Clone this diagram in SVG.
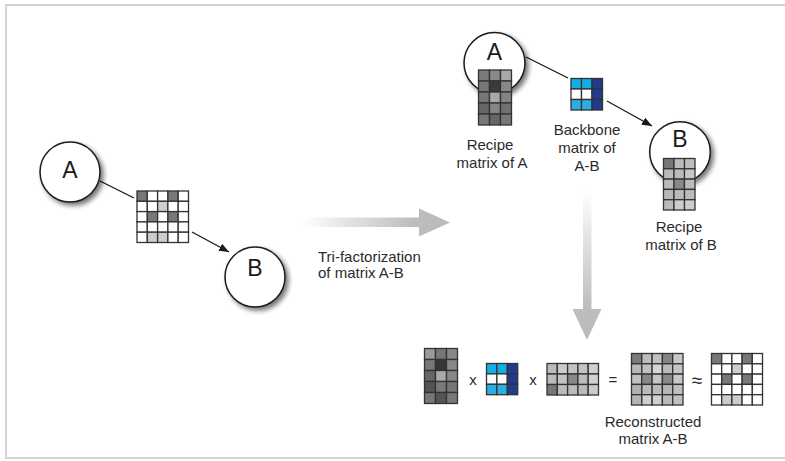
<svg xmlns="http://www.w3.org/2000/svg" width="785" height="461" viewBox="0 0 785 461">
  <style>
    text { font-family: "Liberation Sans", Arial, sans-serif; fill: #2b2b2b; }
    .lbl { font-size: 15px; text-anchor: middle; }
    .big { font-size: 23px; text-anchor: middle; fill: #1a1a1a; }
    .op { font-size: 15px; text-anchor: middle; }
    .node { fill: #fff; stroke: #1a1a1a; stroke-width: 1.5; }
    .edge { stroke: #1a1a1a; stroke-width: 1.3; fill: none; }
    .m rect { stroke: #333; stroke-width: 1.3; }
    .w { fill: #fff; }
    .d { fill: #787878; }
    .l { fill: #cdcdcd; }
    .c1 { fill: #12aee8; }
    .c2 { fill: #2aaee3; }
    .nv { fill: #233a91; }
  </style>
  <defs>
    <filter id="shadow" x="-30%" y="-30%" width="170%" height="170%">
      <feGaussianBlur in="SourceAlpha" stdDeviation="2.5"/>
      <feOffset dx="2.5" dy="3" result="b"/>
      <feComponentTransfer><feFuncA type="linear" slope="0.55"/></feComponentTransfer>
      <feMerge><feMergeNode/><feMergeNode in="SourceGraphic"/></feMerge>
    </filter>
    <marker id="arrow" viewBox="0 0 10 8" refX="10" refY="4" markerWidth="10" markerHeight="8" markerUnits="userSpaceOnUse" orient="auto">
      <path d="M0,0 L10,4 L0,8 Z" fill="#1a1a1a"/>
    </marker>
    <linearGradient id="fadeH" x1="302" y1="0" x2="450" y2="0" gradientUnits="userSpaceOnUse">
      <stop offset="0" stop-color="#ffffff"/>
      <stop offset="0.75" stop-color="#bdbdbd"/>
      <stop offset="1" stop-color="#bababa"/>
    </linearGradient>
    <linearGradient id="fadeV" x1="0" y1="190" x2="0" y2="340" gradientUnits="userSpaceOnUse">
      <stop offset="0" stop-color="#ffffff"/>
      <stop offset="0.78" stop-color="#bdbdbd"/>
      <stop offset="1" stop-color="#bababa"/>
    </linearGradient>
  </defs>

  <!-- outer frame -->
  <rect x="6" y="5" width="790" height="453" fill="#fff" stroke="#d4d4d4" stroke-width="2"/>

  <!-- connectors -->
  <g id="connectors">
    <line class="edge" x1="100" y1="181" x2="134" y2="198"/>
    <line class="edge" x1="192" y1="232" x2="229" y2="252" marker-end="url(#arrow)"/>
    <line class="edge" x1="526" y1="57" x2="568" y2="78"/>
    <line class="edge" x1="607" y1="101" x2="652" y2="126" marker-end="url(#arrow)"/>
    <!-- factorization arrows -->
    <path d="M302,217.5 H419 V208.5 L450,222.5 L419,236.5 V227 H302 Z" fill="url(#fadeH)"/>
    <path d="M583,190 H591.5 V309 H601.5 L587,340 L572.5,309 H583 Z" fill="url(#fadeV)"/>
  </g>

  <!-- input graph -->
  <g id="nodeA">
    <circle class="node" cx="70" cy="172" r="30" filter="url(#shadow)"/>
    <text class="big" x="70" y="178">A</text>
  </g>
  <g id="nodeB">
    <circle class="node" cx="255" cy="277" r="30" filter="url(#shadow)"/>
    <text class="big" x="255" y="276">B</text>
  </g>
  <g id="matrixAB" class="m" transform="translate(137,191)">
    <rect class="d" x="0" y="0" width="10.3" height="10.3"/><rect class="w" x="10.3" y="0" width="10.3" height="10.3"/><rect class="w" x="20.6" y="0" width="10.3" height="10.3"/><rect class="d" x="30.9" y="0" width="10.3" height="10.3"/><rect class="w" x="41.2" y="0" width="10.3" height="10.3"/>
    <rect class="w" x="0" y="10.3" width="10.3" height="10.3"/><rect class="w" x="10.3" y="10.3" width="10.3" height="10.3"/><rect class="l" x="20.6" y="10.3" width="10.3" height="10.3"/><rect class="w" x="30.9" y="10.3" width="10.3" height="10.3"/><rect class="w" x="41.2" y="10.3" width="10.3" height="10.3"/>
    <rect class="w" x="0" y="20.6" width="10.3" height="10.3"/><rect class="d" x="10.3" y="20.6" width="10.3" height="10.3"/><rect class="w" x="20.6" y="20.6" width="10.3" height="10.3"/><rect class="d" x="30.9" y="20.6" width="10.3" height="10.3"/><rect class="w" x="41.2" y="20.6" width="10.3" height="10.3"/>
    <rect class="w" x="0" y="30.9" width="10.3" height="10.3"/><rect class="w" x="10.3" y="30.9" width="10.3" height="10.3"/><rect class="w" x="20.6" y="30.9" width="10.3" height="10.3"/><rect class="w" x="30.9" y="30.9" width="10.3" height="10.3"/><rect class="w" x="41.2" y="30.9" width="10.3" height="10.3"/>
    <rect class="w" x="0" y="41.2" width="10.3" height="10.3"/><rect class="l" x="10.3" y="41.2" width="10.3" height="10.3"/><rect class="l" x="20.6" y="41.2" width="10.3" height="10.3"/><rect class="w" x="30.9" y="41.2" width="10.3" height="10.3"/><rect class="w" x="41.2" y="41.2" width="10.3" height="10.3"/>
  </g>

  <text x="318" y="262" style="font-size:15px">Tri-factorization</text>
  <text x="318" y="278" style="font-size:15px">of matrix A-B</text>

  <!-- factorized graph -->
  <g id="recipeA">
    <circle class="node" cx="494.5" cy="63" r="30.5" filter="url(#shadow)"/>
    <text class="big" x="494.5" y="59.5">A</text>
    <g class="m" transform="translate(478.5,70)">
      <rect style="fill:#7a7a7a" x="0" y="0" width="11" height="11"/><rect style="fill:#888" x="11" y="0" width="11" height="11"/><rect style="fill:#a9a9a9" x="22" y="0" width="11" height="11"/>
      <rect style="fill:#767676" x="0" y="11" width="11" height="11"/><rect style="fill:#3b3b3b" x="11" y="11" width="11" height="11"/><rect style="fill:#888" x="22" y="11" width="11" height="11"/>
      <rect style="fill:#777" x="0" y="22" width="11" height="11"/><rect style="fill:#a8a8a8" x="11" y="22" width="11" height="11"/><rect style="fill:#838383" x="22" y="22" width="11" height="11"/>
      <rect style="fill:#666" x="0" y="33" width="11" height="11"/><rect style="fill:#858585" x="11" y="33" width="11" height="11"/><rect style="fill:#707070" x="22" y="33" width="11" height="11"/>
      <rect style="fill:#777" x="0" y="44" width="11" height="11"/><rect style="fill:#666" x="11" y="44" width="11" height="11"/><rect style="fill:#777" x="22" y="44" width="11" height="11"/>
    </g>
    <text class="lbl" x="490" y="150">Recipe</text>
    <text class="lbl" x="492" y="168">matrix of A</text>
  </g>

  <g id="backbone">
    <g class="m" transform="translate(571,78.5)">
      <rect class="c1" x="0" y="0" width="10.5" height="10.5"/><rect class="c1" x="10.5" y="0" width="10.5" height="10.5"/><rect class="nv" x="21" y="0" width="10.5" height="10.5"/>
      <rect class="w" x="0" y="10.5" width="10.5" height="10.5"/><rect class="w" x="10.5" y="10.5" width="10.5" height="10.5"/><rect class="nv" x="21" y="10.5" width="10.5" height="10.5"/>
      <rect class="c2" x="0" y="21" width="10.5" height="10.5"/><rect class="c2" x="10.5" y="21" width="10.5" height="10.5"/><rect class="nv" x="21" y="21" width="10.5" height="10.5"/>
    </g>
    <text class="lbl" x="587" y="135">Backbone</text>
    <text class="lbl" x="587" y="153">matrix of</text>
    <text class="lbl" x="587" y="171">A-B</text>
  </g>

  <g id="recipeB">
    <circle class="node" cx="680" cy="152" r="30.3" filter="url(#shadow)"/>
    <text class="big" x="680" y="146.5">B</text>
    <g class="m" transform="translate(663.5,158.5)">
      <rect style="fill:#777" x="0" y="0" width="10.5" height="10.3"/><rect style="fill:#bbb" x="10.5" y="0" width="10.5" height="10.3"/><rect style="fill:#bdbdbd" x="21" y="0" width="10.5" height="10.3"/>
      <rect style="fill:#bbb" x="0" y="10.3" width="10.5" height="10.3"/><rect style="fill:#bbb" x="10.5" y="10.3" width="10.5" height="10.3"/><rect style="fill:#c8c8c8" x="21" y="10.3" width="10.5" height="10.3"/>
      <rect style="fill:#bbb" x="0" y="20.6" width="10.5" height="10.3"/><rect style="fill:#888" x="10.5" y="20.6" width="10.5" height="10.3"/><rect style="fill:#bbb" x="21" y="20.6" width="10.5" height="10.3"/>
      <rect style="fill:#b8b8b8" x="0" y="30.9" width="10.5" height="10.3"/><rect style="fill:#bbb" x="10.5" y="30.9" width="10.5" height="10.3"/><rect style="fill:#bbb" x="21" y="30.9" width="10.5" height="10.3"/>
      <rect style="fill:#bbb" x="0" y="41.2" width="10.5" height="10.3"/><rect style="fill:#cdcdcd" x="10.5" y="41.2" width="10.5" height="10.3"/><rect style="fill:#cdcdcd" x="21" y="41.2" width="10.5" height="10.3"/>
    </g>
    <text class="lbl" x="679" y="232">Recipe</text>
    <text class="lbl" x="681" y="250">matrix of B</text>
  </g>

  <!-- product of the three factors -->
  <g id="eqRecipeA" class="m" transform="translate(424.5,348.5)">
    <rect style="fill:#9a9a9a" x="0" y="0" width="11" height="11"/><rect style="fill:#777" x="11" y="0" width="11" height="11"/><rect style="fill:#888" x="22" y="0" width="11" height="11"/>
    <rect style="fill:#777" x="0" y="11" width="11" height="11"/><rect style="fill:#363636" x="11" y="11" width="11" height="11"/><rect style="fill:#888" x="22" y="11" width="11" height="11"/>
    <rect style="fill:#666" x="0" y="22" width="11" height="11"/><rect style="fill:#aaa" x="11" y="22" width="11" height="11"/><rect style="fill:#888" x="22" y="22" width="11" height="11"/>
    <rect style="fill:#555" x="0" y="33" width="11" height="11"/><rect style="fill:#7a7a7a" x="11" y="33" width="11" height="11"/><rect style="fill:#777" x="22" y="33" width="11" height="11"/>
    <rect style="fill:#777" x="0" y="44" width="11" height="11"/><rect style="fill:#555" x="11" y="44" width="11" height="11"/><rect style="fill:#777" x="22" y="44" width="11" height="11"/>
  </g>
  <text class="op" x="473" y="384.5">x</text>
  <g id="eqBackbone" class="m" transform="translate(486.5,363.5)">
    <rect class="c1" x="0" y="0" width="10.4" height="10.4"/><rect class="c1" x="10.4" y="0" width="10.4" height="10.4"/><rect class="nv" x="20.8" y="0" width="10.4" height="10.4"/>
    <rect class="w" x="0" y="10.4" width="10.4" height="10.4"/><rect class="w" x="10.4" y="10.4" width="10.4" height="10.4"/><rect class="nv" x="20.8" y="10.4" width="10.4" height="10.4"/>
    <rect class="c2" x="0" y="20.8" width="10.4" height="10.4"/><rect class="c2" x="10.4" y="20.8" width="10.4" height="10.4"/><rect class="nv" x="20.8" y="20.8" width="10.4" height="10.4"/>
  </g>
  <text class="op" x="533" y="384.5">x</text>
  <g id="eqRecipeB" class="m" transform="translate(547,363.5)">
    <rect style="fill:#bbb" x="0" y="0" width="10.3" height="10.5"/><rect style="fill:#cbcbcb" x="10.3" y="0" width="10.3" height="10.5"/><rect style="fill:#c3c3c3" x="20.6" y="0" width="10.3" height="10.5"/><rect style="fill:#c3c3c3" x="30.9" y="0" width="10.3" height="10.5"/><rect style="fill:#d0d0d0" x="41.2" y="0" width="10.3" height="10.5"/>
    <rect style="fill:#bbb" x="0" y="10.5" width="10.3" height="10.5"/><rect style="fill:#c3c3c3" x="10.3" y="10.5" width="10.3" height="10.5"/><rect style="fill:#888" x="20.6" y="10.5" width="10.3" height="10.5"/><rect style="fill:#bbb" x="30.9" y="10.5" width="10.3" height="10.5"/><rect style="fill:#d0d0d0" x="41.2" y="10.5" width="10.3" height="10.5"/>
    <rect style="fill:#777" x="0" y="21" width="10.3" height="10.5"/><rect style="fill:#bbb" x="10.3" y="21" width="10.3" height="10.5"/><rect style="fill:#bbb" x="20.6" y="21" width="10.3" height="10.5"/><rect style="fill:#bbb" x="30.9" y="21" width="10.3" height="10.5"/><rect style="fill:#cbcbcb" x="41.2" y="21" width="10.3" height="10.5"/>
  </g>
  <text class="op" x="613" y="384.5">=</text>
  <g id="reconstructed">
    <g class="m" transform="translate(631.5,353.5)">
      <rect style="fill:#7a7a7a" x="0" y="0" width="10.3" height="10.3"/><rect style="fill:#bdbdbd" x="10.3" y="0" width="10.3" height="10.3"/><rect style="fill:#c0c0c0" x="20.6" y="0" width="10.3" height="10.3"/><rect style="fill:#858585" x="30.9" y="0" width="10.3" height="10.3"/><rect style="fill:#c8c8c8" x="41.2" y="0" width="10.3" height="10.3"/>
      <rect style="fill:#b8b8b8" x="0" y="10.3" width="10.3" height="10.3"/><rect style="fill:#c0c0c0" x="10.3" y="10.3" width="10.3" height="10.3"/><rect style="fill:#d5d5d5" x="20.6" y="10.3" width="10.3" height="10.3"/><rect style="fill:#bbb" x="30.9" y="10.3" width="10.3" height="10.3"/><rect style="fill:#c5c5c5" x="41.2" y="10.3" width="10.3" height="10.3"/>
      <rect style="fill:#c0c0c0" x="0" y="20.6" width="10.3" height="10.3"/><rect style="fill:#888" x="10.3" y="20.6" width="10.3" height="10.3"/><rect style="fill:#c4c4c4" x="20.6" y="20.6" width="10.3" height="10.3"/><rect style="fill:#888" x="30.9" y="20.6" width="10.3" height="10.3"/><rect style="fill:#c8c8c8" x="41.2" y="20.6" width="10.3" height="10.3"/>
      <rect style="fill:#b0b0b0" x="0" y="30.9" width="10.3" height="10.3"/><rect style="fill:#bbb" x="10.3" y="30.9" width="10.3" height="10.3"/><rect style="fill:#bbb" x="20.6" y="30.9" width="10.3" height="10.3"/><rect style="fill:#b5b5b5" x="30.9" y="30.9" width="10.3" height="10.3"/><rect style="fill:#c0c0c0" x="41.2" y="30.9" width="10.3" height="10.3"/>
      <rect style="fill:#b5b5b5" x="0" y="41.2" width="10.3" height="10.3"/><rect style="fill:#d0d0d0" x="10.3" y="41.2" width="10.3" height="10.3"/><rect style="fill:#d0d0d0" x="20.6" y="41.2" width="10.3" height="10.3"/><rect style="fill:#bbb" x="30.9" y="41.2" width="10.3" height="10.3"/><rect style="fill:#c0c0c0" x="41.2" y="41.2" width="10.3" height="10.3"/>
    </g>
    <text class="lbl" x="653" y="427">Reconstructed</text>
    <text class="lbl" x="653" y="444">matrix A-B</text>
  </g>
  <text class="op" x="697" y="387" style="font-size:19px">≈</text>
  <g id="approxAB" class="m" transform="translate(711.5,353.5)">
    <rect class="d" x="0" y="0" width="10.2" height="10.3"/><rect class="w" x="10.2" y="0" width="10.2" height="10.3"/><rect class="w" x="20.4" y="0" width="10.2" height="10.3"/><rect class="d" x="30.6" y="0" width="10.2" height="10.3"/><rect class="w" x="40.8" y="0" width="10.2" height="10.3"/>
    <rect class="w" x="0" y="10.3" width="10.2" height="10.3"/><rect class="w" x="10.2" y="10.3" width="10.2" height="10.3"/><rect class="l" x="20.4" y="10.3" width="10.2" height="10.3"/><rect class="w" x="30.6" y="10.3" width="10.2" height="10.3"/><rect class="w" x="40.8" y="10.3" width="10.2" height="10.3"/>
    <rect class="w" x="0" y="20.6" width="10.2" height="10.3"/><rect class="d" x="10.2" y="20.6" width="10.2" height="10.3"/><rect class="w" x="20.4" y="20.6" width="10.2" height="10.3"/><rect class="d" x="30.6" y="20.6" width="10.2" height="10.3"/><rect class="w" x="40.8" y="20.6" width="10.2" height="10.3"/>
    <rect class="w" x="0" y="30.9" width="10.2" height="10.3"/><rect class="w" x="10.2" y="30.9" width="10.2" height="10.3"/><rect class="w" x="20.4" y="30.9" width="10.2" height="10.3"/><rect class="w" x="30.6" y="30.9" width="10.2" height="10.3"/><rect class="w" x="40.8" y="30.9" width="10.2" height="10.3"/>
    <rect class="w" x="0" y="41.2" width="10.2" height="10.3"/><rect class="l" x="10.2" y="41.2" width="10.2" height="10.3"/><rect class="l" x="20.4" y="41.2" width="10.2" height="10.3"/><rect class="w" x="30.6" y="41.2" width="10.2" height="10.3"/><rect class="w" x="40.8" y="41.2" width="10.2" height="10.3"/>
  </g>
</svg>
